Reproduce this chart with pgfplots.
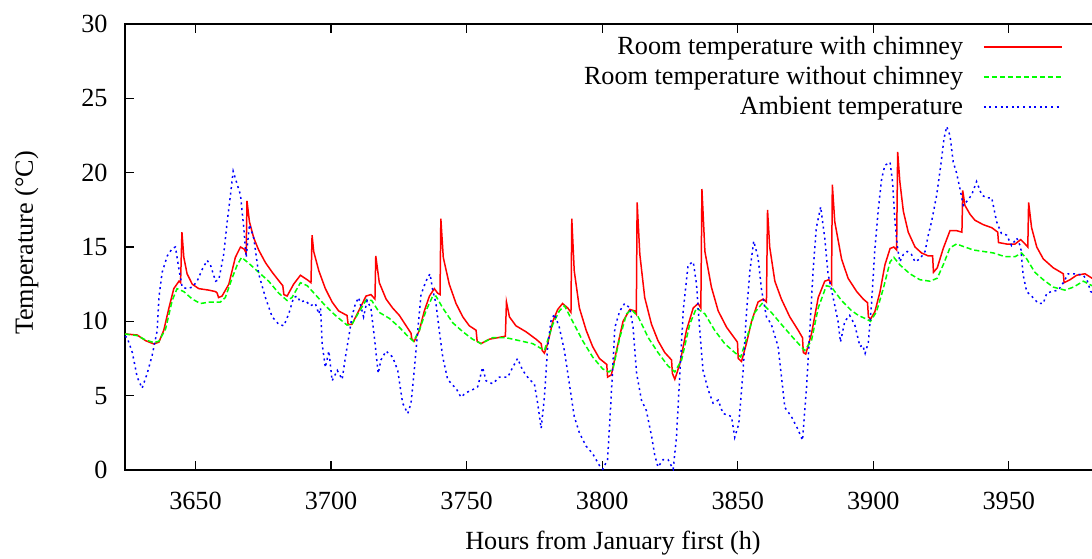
\documentclass[border=0pt]{standalone}
\usepackage{fontspec}
\setmainfont{Liberation Serif}
\usepackage{pgfplots}
\pgfplotsset{compat=1.18}
\usetikzlibrary{calc}
\definecolor{gpred}{RGB}{255,0,0}
\definecolor{gpgreen}{RGB}{0,255,0}
\definecolor{gpblue}{RGB}{0,0,255}
\begin{document}
\fontsize{13.1pt}{15pt}\selectfont
\begin{tikzpicture}
\begin{axis}[
  name=ax,
  scale only axis, width=488pt, height=223pt,
  xmin=3624, xmax=3984, ymin=0, ymax=30,
  xtick={3650,3700,...,3950}, ytick={0,5,...,30},
  minor tick num=0,
  tick align=inside, major tick length=4.5pt,
  tick style={line width=0.6pt, black},
  axis line style={line width=0.6pt, black},
  /pgf/number format/assume math mode=true,
  xticklabel style={/pgf/number format/1000 sep={}, anchor=base, inner sep=0pt, yshift=-19.5pt},
  yticklabel style={anchor=east, inner sep=0pt, xshift=-8.5pt},
  xlabel={Hours from January first (h)},
  ylabel={Temperature (°C)},
  xlabel style={at={(axis description cs:0.5,0)}, anchor=base, inner sep=0pt, yshift=-39.5pt},
  ylabel style={at={(axis description cs:-0.0943,0.509)}, anchor=base, rotate=0, inner sep=0pt},
  legend plot pos=right,
  legend cell align=right,
  legend image code/.code={\draw[#1] (0pt,0pt) -- (39pt,0pt);},
  legend style={at={(rel axis cs:1,1)}, anchor=north east, xshift=-19pt, yshift=-5.9pt,
    draw=none, fill=none, inner sep=0pt, row sep=4pt, column sep=10pt,
    nodes={inner sep=0pt, text height=9pt, text depth=2pt}},
]
\addplot[gpred, line width=0.75pt] coordinates {
(3624,9.15) (3628.5,9.08) (3631.6,8.7) (3634.6,8.48) (3636.5,8.6) (3638.3,9.4) (3640.2,10.9) (3642,12.2) (3643.9,12.7) (3644.5,12.6)
(3645,16.0) (3645.7,14.3) (3646.9,13.2) (3648.8,12.5) (3651.2,12.2) (3654.9,12.1) (3657.4,12.0) (3658,11.9) (3658.5,11.6) (3659.8,11.7)
(3662.3,12.5) (3664.7,14.3) (3666.6,15.0) (3668,14.85) (3668.7,14.6) (3669,18.1) (3669.9,16.7) (3671.5,15.6) (3673.3,14.8) (3675.8,13.95)
(3678.3,13.3) (3681.3,12.6) (3682.2,12.4) (3682.6,11.8) (3683.8,11.7) (3686.2,12.5) (3688.7,13.1) (3691.2,12.8) (3692.6,12.6) (3693,15.8)
(3693.6,14.7) (3695.5,13.4) (3697.9,12.2) (3700.4,11.3) (3702.8,10.7) (3705.3,10.45) (3705.9,10.4) (3706.3,9.8) (3707.7,9.8) (3710.2,10.7)
(3712.9,11.7) (3714.7,11.8) (3716.2,11.5) (3716.5,14.4) (3717.8,12.6) (3720.3,11.5) (3722.7,10.9) (3725.2,10.4) (3727.7,9.7) (3729.5,9.2)
(3729.8,8.8) (3730.7,8.66) (3732.6,9.4) (3734.4,10.7) (3736.3,11.7) (3738.1,12.2) (3739.3,11.9) (3740.2,11.8) (3740.5,16.9) (3741.4,14.3)
(3743.6,12.5) (3746.1,11.2) (3748.6,10.3) (3751,9.7) (3753.5,9.4) (3753.9,8.66) (3755.3,8.5) (3758.4,8.8) (3761.5,8.9) (3764.3,9.0)
(3764.7,11.3) (3765.8,10.3) (3768.2,9.7) (3771.9,9.3) (3775.6,8.8) (3777.5,8.5) (3777.9,8.04) (3778.7,7.86) (3779.9,8.5) (3781.8,10.0)
(3783.6,10.8) (3785.4,11.2) (3787.3,10.9) (3788.5,10.6) (3788.8,16.9) (3789.7,13.4) (3791.6,10.9) (3794.1,9.4) (3796.5,8.3) (3799,7.5)
(3801.7,7.1) (3802,6.25) (3803.4,6.4) (3805.3,8.04) (3807.7,10.0) (3810.2,10.8) (3812,10.7) (3812.6,10.5) (3812.9,18.0) (3813.9,14.5)
(3815.7,11.6) (3818.2,9.8) (3820.6,8.7) (3823.1,7.9) (3825.6,7.4) (3825.9,6.5) (3826.8,6.1) (3828.6,7.1) (3831.1,9.4) (3833.6,10.9)
(3835.4,11.2) (3836.4,10.9) (3836.8,18.9) (3837.9,14.7) (3840.3,12.3) (3842.8,10.7) (3845.9,9.6) (3848.3,9.0) (3849.9,8.6) (3850.2,7.5)
(3851.4,7.3) (3853.2,8.5) (3855.1,10.0) (3857.5,11.3) (3859.4,11.5) (3860.6,11.3) (3861,17.5) (3861.8,15.0) (3863.7,12.7) (3866.1,11.5)
(3869.2,10.3) (3872.3,9.4) (3873.9,8.9) (3874.2,7.9) (3875.1,7.8) (3877.2,9.15) (3879.7,11.6) (3882.1,12.7) (3883.6,12.8) (3884.6,12.5)
(3884.9,19.2) (3885.8,16.7) (3888.3,14.2) (3890.7,12.9) (3893.9,12.0) (3896.3,11.5) (3897.9,11.25) (3898.2,10.3) (3899,10.15) (3900.6,10.65)
(3902.5,12.0) (3904.3,13.8) (3906.2,14.9) (3907.6,15.0) (3908.6,14.8) (3909,21.4) (3909.8,19.4) (3911.1,17.4) (3912.9,16.0) (3915.4,15.0)
(3917.8,14.6) (3920.3,14.4) (3921.9,14.4) (3922.2,13.3) (3923.6,13.6) (3925.8,14.9) (3928.3,16.1) (3930.7,16.1) (3932.7,16.0) (3933,18.8)
(3933.8,17.8) (3935.7,17.2) (3937.5,16.8) (3940.6,16.5) (3943.7,16.3) (3945.9,16.0) (3946.2,15.3) (3949.2,15.2) (3952.3,15.2) (3954.4,15.5)
(3956,15.2) (3957,15.0) (3957.3,18.0) (3958.4,16.3) (3960.3,15.0) (3962.7,14.2) (3966.4,13.6) (3970.1,13.2) (3970.4,12.6) (3972.6,12.8)
(3975,13.1) (3978.1,13.2) (3980.7,12.9) (3984,12.4)
};
\addlegendentry{Room temperature with chimney}
\addplot[gpgreen, line width=0.75pt, dash pattern=on 2.6pt off 1.4pt] coordinates {
(3624,9.15) (3628.5,9.04) (3631.6,8.75) (3634.6,8.57) (3636.5,8.66) (3639,9.5) (3641.4,11.4) (3643.2,12.2) (3645.7,12.0) (3648.8,11.5)
(3651.8,11.2) (3655.5,11.3) (3659.2,11.3) (3661,11.6) (3663.5,12.9) (3665.4,13.8) (3667,14.3) (3669.7,13.9) (3673.3,13.3) (3677,12.7)
(3680.7,11.9) (3683.8,11.4) (3685.6,11.6) (3688.7,12.6) (3691.2,12.4) (3694.2,11.8) (3697.9,11.05) (3701.6,10.4) (3705.9,9.75) (3707.7,9.8)
(3710.2,10.6) (3713,11.45) (3715,11.4) (3717.8,10.6) (3721.5,10.2) (3725.2,9.6) (3728.3,9.0) (3730.4,8.66) (3732.6,9.4) (3735,10.7)
(3737.5,11.7) (3738.7,11.7) (3741.2,10.9) (3744.9,9.9) (3748.6,9.3) (3752.2,8.8) (3755.3,8.5) (3759.6,8.9) (3764.5,8.9) (3769.5,8.7)
(3774.4,8.5) (3778.7,8.04) (3781.8,9.8) (3784.2,10.7) (3786.1,11.05) (3789.1,10.0) (3792.8,8.7) (3796.5,7.6) (3800.2,6.8) (3802.5,6.6)
(3804,6.8) (3806.5,8.9) (3809,10.5) (3810.8,10.8) (3813.3,10.3) (3817,8.9) (3820.6,7.9) (3824.3,7.0) (3826.8,6.6) (3829.3,7.4)
(3832.3,9.8) (3834.8,10.9) (3837.9,10.5) (3841.5,9.4) (3845.2,8.5) (3848.9,7.9) (3851.1,7.6) (3853.8,9.15) (3856.3,10.6) (3859,11.2)
(3862.4,10.6) (3866.1,9.8) (3870.4,8.9) (3874.7,8.04) (3877.2,8.7) (3879.7,10.9) (3882.7,12.4) (3884.6,12.3) (3888.3,11.4) (3891.8,10.75)
(3894.5,10.4) (3897.5,10.15) (3899,10.0) (3901.2,10.65) (3903.7,12.2) (3906.2,14.0) (3907.6,14.3) (3909.8,13.8) (3913.5,13.2) (3917.2,12.8)
(3920.9,12.7) (3923.6,12.9) (3925.8,13.8) (3928.3,14.95) (3930.7,15.2) (3933.8,15.0) (3936.9,14.8) (3940.6,14.7) (3944.3,14.6) (3948.6,14.35)
(3952.3,14.35) (3954.7,14.6) (3956.6,14.2) (3959.6,13.3) (3962.7,12.8) (3966.4,12.3) (3970.7,12.1) (3973.8,12.3) (3977.5,12.7) (3980.7,12.4)
(3984,12.1)
};
\addlegendentry{Room temperature without chimney}
\addplot[gpblue, line width=0.75pt, dash pattern=on 1pt off 1.8pt] coordinates {
(3624,9.0) (3624.8,8.9) (3626.7,7.9) (3628.5,6.25) (3630.3,5.5) (3632.2,6.5) (3634,7.7) (3635.9,9.4) (3636.5,11.6) (3637.7,13.3)
(3639.6,14.4) (3641.4,14.9) (3642.6,15.0) (3643.9,13.5) (3645.1,12.3) (3646.9,12.2) (3648.8,12.3) (3650.6,12.7) (3652.5,13.5) (3654.3,14.1)
(3655.5,13.8) (3657.4,12.7) (3658.6,12.8) (3660.4,14.5) (3661.7,16.7) (3662.9,18.5) (3663.9,20.1) (3665.4,19.2) (3666.6,18.5) (3667.8,16.3)
(3668.7,14.3) (3669.9,16.5) (3671.5,15.6) (3673.3,13.2) (3675.8,11.6) (3678.3,10.3) (3680.7,9.8) (3682.6,9.7) (3684.4,10.5) (3686.2,11.6)
(3687.5,11.7) (3688.7,11.3) (3690.5,11.4) (3692.4,11.05) (3694.2,11.2) (3695.5,10.5) (3696.1,10.9) (3696.7,8.5) (3697.9,6.9) (3699.2,8.0)
(3700.4,6.0) (3702.3,6.7) (3704.1,6.1) (3705.3,7.6) (3706.5,8.9) (3707.7,10.3) (3709,11.2) (3710.2,11.6) (3712,10.3) (3713.3,11.4)
(3714.7,10.9) (3716,8.9) (3717.4,6.5) (3718.4,7.4) (3720.3,8.0) (3722.7,7.6) (3724.6,6.7) (3726.4,4.5) (3728.3,3.8) (3729.5,4.5)
(3730.7,6.7) (3732,9.4) (3733.2,11.8) (3735,12.7) (3736.5,13.2) (3737.5,12.1) (3738.7,11.2) (3739.9,9.4) (3741.2,7.6) (3743,6.1)
(3744.9,5.7) (3746.1,5.5) (3747.9,4.9) (3749.8,5.2) (3752.2,5.4) (3754.1,5.6) (3755.9,6.9) (3757.2,6.0) (3759.6,5.8) (3762.1,6.25)
(3765.2,6.25) (3767,6.9) (3768.8,7.5) (3770.7,6.7) (3773.1,6.1) (3775,5.8) (3776.2,4.5) (3777.5,2.8) (3778.7,4.9) (3779.9,8.3)
(3781.1,10.0) (3782.4,10.5) (3784.2,9.6) (3786.1,8.0) (3787.9,5.8) (3789.7,3.6) (3791.6,2.5) (3794.1,1.6) (3796.5,1.1) (3799,0.3)
(3800.2,0.05) (3802,0.7) (3803.2,4.5) (3804.7,9.6) (3806.5,10.7) (3808.3,11.2) (3810.2,10.9) (3811.4,9.6) (3812.7,6.5) (3814.5,4.7)
(3816.3,4.0) (3818.2,2.3) (3819.4,1.0) (3820.6,0.2) (3822.5,0.7) (3824.3,0.7) (3826.2,0.05) (3827.4,2.2) (3828.6,6.25) (3829.9,10.7)
(3831.7,13.8) (3833.6,14.0) (3834.8,12.5) (3836,9.4) (3837.2,6.7) (3839.1,5.4) (3840.9,4.5) (3842.8,4.7) (3844.6,3.8) (3847.7,3.6)
(3848.9,2.2) (3850.4,3.1) (3852,6.7) (3853.2,10.5) (3854.5,13.4) (3855.9,15.4) (3857.5,14.3) (3858.8,12.1) (3860.6,10.3) (3862.4,9.8)
(3864.9,8.3) (3867.4,4.2) (3869.8,3.6) (3872.3,2.7) (3873.9,2.0) (3875.4,5.6) (3876.6,9.4) (3877.8,13.4) (3879,16.3) (3880.6,17.7)
(3882.1,15.6) (3883.3,13.2) (3885.2,11.6) (3887,10.0) (3887.9,8.6) (3889.5,10.0) (3891.3,10.4) (3893.2,9.75) (3895.1,8.3) (3896.1,8.4)
(3897,7.85) (3898.2,8.6) (3899.4,11.3) (3900.6,14.9) (3901.9,17.6) (3903.1,19.6) (3904.3,20.5) (3906.2,20.7) (3907.1,19.4) (3908,16.7)
(3909,14.9) (3909.8,14.0) (3911.1,14.5) (3912.5,14.7) (3914.1,14.5) (3915.4,14.0) (3917.2,14.2) (3919.1,14.7) (3920.3,15.8) (3921.5,16.7)
(3923.4,18.5) (3924.9,20.5) (3926.1,22.3) (3927.1,23.1) (3928.3,22.5) (3929.5,20.7) (3930.7,20.0) (3932,18.9) (3933.2,17.8) (3934.4,18.05)
(3936.3,18.5) (3938.1,19.4) (3940,18.5) (3941.8,18.3) (3943.7,18.3) (3945.5,16.7) (3947.3,15.9) (3949.2,15.8) (3951,15.1) (3952.9,15.6)
(3954.4,15.0) (3955.3,13.1) (3956.6,12.0) (3958.4,11.7) (3960.9,11.2) (3962.7,11.2) (3964,11.9) (3965.8,12.0) (3968.3,12.1) (3970.1,12.6)
(3971.9,13.2) (3974.4,13.2) (3977.5,13.1) (3979,12.7) (3980.2,12.0) (3984,11.6)
};
\addlegendentry{Ambient temperature}
\end{axis}
\pgfresetboundingbox
\path[use as bounding box] ($(ax.south west)+(-62.5pt,-44pt)$) rectangle ($(ax.north west)+(483.5pt,12pt)$);
\end{tikzpicture}
\end{document}
